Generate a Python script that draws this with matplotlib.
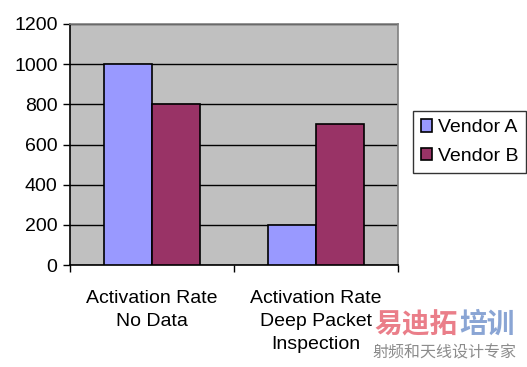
import matplotlib.pyplot as plt
import numpy as np

categories = ['Activation Rate\nNo Data', 'Activation Rate\nDeep Packet\nInspection']
vendor_a = [1000, 200]
vendor_b = [800, 700]
series_names = ['Vendor A', 'Vendor B']

plt.rcParams['font.family'] = ['Liberation Sans', 'DejaVu Sans']

fig = plt.figure(figsize=(5.27, 3.67), dpi=100)
ax = fig.add_axes([70 / 527, 102 / 367, 328 / 527, 241 / 367])
ax.set_facecolor('#C0C0C0')

x = np.arange(len(categories))
w = 0.29
ax.bar(x - w / 2, vendor_a, w, color='#9999FF', edgecolor='black', linewidth=1.2,
       label=series_names[0], zorder=3)
ax.bar(x + w / 2, vendor_b, w, color='#993366', edgecolor='black', linewidth=1.2,
       label=series_names[1], zorder=3)

ax.set_xlim(-0.5, 1.5)
ax.set_ylim(0, 1200)
ax.set_yticks(range(0, 1201, 200))
ax.yaxis.grid(True, color='black', linewidth=1, zorder=1)
ax.tick_params(axis='y', labelsize=14, length=5, width=1, pad=4)

# category labels between tick marks at group boundaries
ax.set_xticks([-0.5, 0.5, 1.5])
ax.set_xticklabels([])
ax.set_xticks(x, minor=True)
ax.set_xticklabels(categories, minor=True, fontsize=14, linespacing=1.48)
ax.tick_params(axis='x', which='major', length=5, width=1)
ax.tick_params(axis='x', which='minor', length=0, pad=18)

for s in ['left', 'bottom']:
    ax.spines[s].set_color('black')
    ax.spines[s].set_linewidth(1.2)
for s in ['top', 'right']:
    ax.spines[s].set_color('#808080')
    ax.spines[s].set_linewidth(1.2)

leg = ax.legend(loc='center left', bbox_to_anchor=(1.045, 0.51), fontsize=14,
                frameon=True, fancybox=False, edgecolor='black', handlelength=0.6,
                handleheight=0.6, handletextpad=0.3, labelspacing=0.6,
                borderpad=0.4, borderaxespad=0)
leg.get_frame().set_linewidth(1)

# watermark
cjk = ['Noto Sans CJK SC', 'DejaVu Sans']
fig.text(374 / 527, 1 - 325 / 367, '易迪拓', fontsize=20, fontweight='bold', color='#E8707C',
         family=cjk, va='center', ha='left', alpha=0.9)
fig.text(459 / 527, 1 - 325 / 367, '培训', fontsize=20, fontweight='bold', color='#7D9BD0',
         family=cjk, va='center', ha='left', alpha=0.9)
fig.text(372 / 527, 1 - 353 / 367, '射频和天线设计专家', fontsize=11.5, color='#8C8C8C',
         family=cjk, va='center', ha='left')

fig.savefig('out.png', dpi=100)
